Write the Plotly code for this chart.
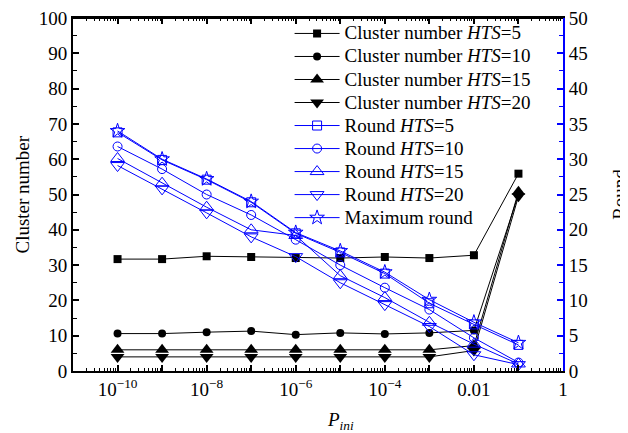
import numpy as np
import plotly.graph_objects as go

# ---- data ----
p_ini = [1e-10, 1e-9, 1e-8, 1e-7, 1e-6, 1e-5, 1e-4, 1e-3, 1e-2, 1e-1]

cluster_hts5 = [31.7, 31.7, 32.5, 32.3, 32.0, 32.0, 32.3, 32.0, 32.8, 55.9]
cluster_hts10 = [10.6, 10.6, 11.0, 11.3, 10.3, 10.8, 10.5, 10.8, 11.5, 50.0]
cluster_hts15 = [6.0, 6.0, 6.0, 6.0, 6.0, 6.0, 6.0, 6.0, 7.2, 50.8]
cluster_hts20 = [4.0, 4.0, 4.0, 4.0, 4.0, 4.0, 4.0, 4.0, 5.8, 49.5]

round_hts5 = [33.8, 29.9, 27.1, 23.9, 19.5, 16.8, 13.8, 9.6, 6.6, 3.7]
round_hts10 = [31.8, 28.6, 25.0, 22.1, 18.6, 15.0, 11.8, 8.7, 4.7, 1.2]
round_hts15 = [30.1, 26.6, 23.2, 20.0, 19.2, 13.5, 10.4, 6.9, 3.8, 1.0]
round_hts20 = [29.1, 25.8, 22.4, 19.0, 16.2, 12.5, 9.4, 6.3, 2.3, 0.9]
round_max = [34.0, 30.0, 27.2, 24.0, 19.6, 17.0, 14.0, 10.1, 6.9, 4.0]

x_tickvals = [1e-10, 1e-9, 1e-8, 1e-7, 1e-6, 1e-5, 1e-4, 1e-3, 1e-2, 1e-1, 1]
x_ticktext = ["10<sup>\u221210</sup>", " ", "10<sup>\u22128</sup>", " ", "10<sup>\u22126</sup>", " ",
              "10<sup>\u22124</sup>", " ", "0.01", " ", "1"]

FONT = "Liberation Serif"
BLUE = "#0000ff"
LEG = '<span style="font-size:19px">{}</span>'

fig = go.Figure()

black_series = [
    (cluster_hts5, "square", 8, "Cluster number <i>HTS</i>=5"),
    (cluster_hts10, "circle", 8, "Cluster number <i>HTS</i>=10"),
    (cluster_hts15, "triangle-up", 12, "Cluster number <i>HTS</i>=15"),
    (cluster_hts20, "triangle-down", 12, "Cluster number <i>HTS</i>=20"),
]
for ys, sym, sz, name in black_series:
    fig.add_trace(go.Scatter(
        x=p_ini, y=ys, name=LEG.format(name), mode="lines+markers",
        line=dict(color="black", width=1),
        marker=dict(symbol=sym, size=sz, color="black"),
        yaxis="y",
    ))

blue_series = [
    (round_hts5, "square-open", 9, "Round <i>HTS</i>=5"),
    (round_hts10, "circle-open", 9, "Round <i>HTS</i>=10"),
    (round_hts15, "triangle-up-open", 12, "Round <i>HTS</i>=15"),
    (round_hts20, "triangle-down-open", 12, "Round <i>HTS</i>=20"),
    (round_max, "star-open", 11, "Maximum round"),
]
for ys, sym, sz, name in blue_series:
    fig.add_trace(go.Scatter(
        x=p_ini, y=ys, name=LEG.format(name), mode="lines+markers",
        line=dict(color=BLUE, width=1),
        marker=dict(symbol=sym, size=sz, color=BLUE, line=dict(width=1, color=BLUE)),
        yaxis="y2",
    ))

minor_x = [k * 10.0 ** d for d in range(-11, 0) for k in range(2, 10)]

fig.update_layout(
    width=628, height=433,
    margin=dict(l=65, r=73, t=10, b=70, autoexpand=False),
    paper_bgcolor="white", plot_bgcolor="white",
    font=dict(family=FONT, size=19, color="black"),
    showlegend=True,
    legend=dict(
        x=0.442, y=1.003, xanchor="left", yanchor="top",
        bgcolor="rgba(0,0,0,0)", borderwidth=0,
        font=dict(family=FONT, size=15.4),
        itemwidth=45, tracegroupgap=0, maxheight=400,
    ),
    xaxis=dict(
        type="log", range=[-11, 0], automargin=False,
        tickmode="array", tickvals=x_tickvals, ticktext=x_ticktext,
        ticks="inside", ticklen=6, tickwidth=1.5, tickcolor="black",
        showline=True, linecolor="black", linewidth=2, mirror="ticks",
        showgrid=False, zeroline=False, ticklabeloverflow="allow",
        tickfont=dict(family=FONT, size=19),
        minor=dict(tickmode="array", tickvals=minor_x, ticks="inside", ticklen=3,
                   tickcolor="black", tickwidth=1, showgrid=False),
    ),
    yaxis=dict(
        range=[0, 100], tickmode="linear", tick0=0, dtick=10, automargin=False,
        ticks="inside", ticklen=6, tickwidth=1.5, tickcolor="black",
        showline=True, linecolor="black", linewidth=2, mirror=False,
        showgrid=False, zeroline=False, ticklabeloverflow="allow",
        tickfont=dict(family=FONT, size=19),
        minor=dict(dtick=5, ticks="inside", ticklen=4, tickcolor="black", tickwidth=1, showgrid=False),
    ),
    yaxis2=dict(
        overlaying="y", side="right", anchor="x", automargin=False,
        range=[0, 50], tickmode="linear", tick0=0, dtick=5,
        ticks="inside", ticklen=6, tickwidth=1.5, tickcolor=BLUE,
        showline=True, linecolor=BLUE, linewidth=2,
        showgrid=False, zeroline=False, ticklabeloverflow="allow",
        tickfont=dict(family=FONT, size=19, color="black"),
        minor=dict(dtick=2.5, ticks="inside", ticklen=4, tickcolor=BLUE, tickwidth=1, showgrid=False),
    ),
    shapes=[
        dict(type="line", xref="paper", yref="paper", x0=0, x1=1, y0=1, y1=1,
             line=dict(color="black", width=2), layer="above"),
    ],
    annotations=[
        dict(text="<i>P<sub>ini</sub></i>", xref="paper", yref="paper",
             x=0.545, y=-0.142, xanchor="center", yanchor="middle", showarrow=False,
             font=dict(family=FONT, size=19)),
        dict(text="Cluster number", xref="paper", yref="paper",
             x=-0.104, y=0.5, xanchor="center", yanchor="middle", showarrow=False,
             textangle=-90, font=dict(family=FONT, size=19)),
        dict(text="Round", xref="paper", yref="paper",
             x=1.115, y=0.5, xanchor="center", yanchor="middle", showarrow=False,
             textangle=-90, font=dict(family=FONT, size=19)),
    ],
)

fig.write_html("out.html")
